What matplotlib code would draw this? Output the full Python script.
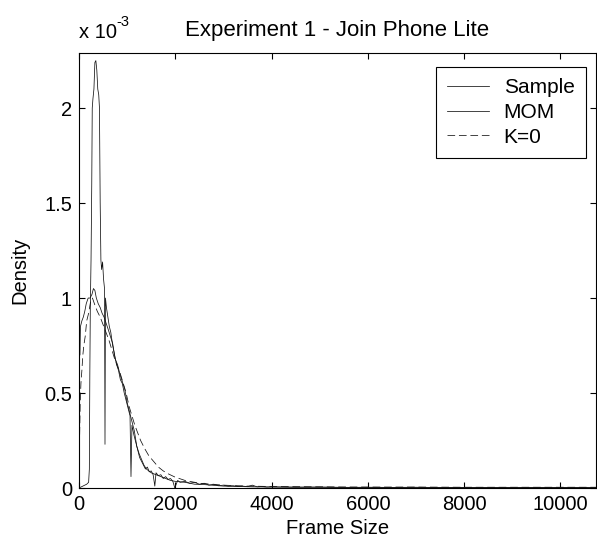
import matplotlib
matplotlib.use("Agg")
import matplotlib.pyplot as plt
from matplotlib.ticker import FixedLocator, FuncFormatter

plt.rcParams['font.family'] = ['Liberation Sans', 'DejaVu Sans']

# Data: (frame size in bytes, density in units of 1e-3)
sample_pts = [(0, 0.0), (80, 0.01), (160, 0.02), (200, 0.03), (215, 0.1), (225, 0.6), (235, 0.95),
              (250, 1.2), (265, 1.6), (275, 2.0), (290, 2.05), (310, 2.1), (330, 2.24), (350, 2.25),
              (370, 2.2), (390, 2.1), (410, 2.07), (425, 2.0), (440, 1.5), (455, 1.2), (470, 1.15),
              (490, 1.19), (510, 1.1), (530, 1.05), (540, 0.23), (550, 1.0), (570, 0.95), (600, 0.9),
              (630, 0.85), (660, 0.82), (700, 0.75), (740, 0.7), (780, 0.65), (820, 0.62), (860, 0.57),
              (900, 0.55), (940, 0.5), (980, 0.46), (1020, 0.42), (1060, 0.38), (1080, 0.06), (1100, 0.33),
              (1140, 0.28), (1180, 0.24), (1220, 0.2), (1260, 0.16), (1300, 0.14), (1340, 0.12), (1380, 0.1),
              (1420, 0.11), (1460, 0.085), (1500, 0.09), (1540, 0.07), (1575, 0.01), (1600, 0.08),
              (1650, 0.065), (1700, 0.07), (1750, 0.05), (1800, 0.06), (1850, 0.045), (1900, 0.05),
              (1950, 0.035), (1990, 0.0), (2050, 0.04), (2100, 0.03), (2200, 0.035), (2300, 0.025),
              (2400, 0.03), (2500, 0.02), (2600, 0.025), (2700, 0.015), (2800, 0.02), (2900, 0.012),
              (3000, 0.015), (3100, 0.01), (3200, 0.012), (3300, 0.008), (3400, 0.01), (3500, 0.007),
              (3600, 0.015), (3700, 0.006), (3800, 0.008), (3900, 0.005), (4000, 0.006), (4500, 0.004),
              (5000, 0.005), (5500, 0.003), (6000, 0.004), (6500, 0.003), (7000, 0.004), (7500, 0.002),
              (8000, 0.003), (8500, 0.002), (9000, 0.003), (9500, 0.002), (10000, 0.002), (10500, 0.002),
              (10740, 0.001)]

mom_pts = [(0, 0.7), (20, 0.7), (30, 0.85), (60, 0.88), (90, 0.9), (120, 0.93), (150, 0.97), (190, 1.0),
           (230, 1.0), (270, 1.02), (300, 1.05), (330, 1.04), (360, 1.0), (400, 0.97), (440, 0.95),
           (480, 0.92), (520, 0.9), (560, 0.87), (600, 0.84), (650, 0.8), (700, 0.76), (750, 0.68),
           (800, 0.65), (850, 0.6), (900, 0.56), (950, 0.52), (1000, 0.45), (1050, 0.4), (1100, 0.35),
           (1150, 0.3), (1200, 0.22), (1250, 0.18), (1300, 0.15), (1350, 0.12), (1400, 0.1), (1450, 0.09),
           (1500, 0.08), (1600, 0.07), (1700, 0.06), (1800, 0.05), (1900, 0.04), (2000, 0.035),
           (2200, 0.03), (2400, 0.02), (2600, 0.018), (2800, 0.014), (3000, 0.01), (3300, 0.008),
           (3600, 0.006), (4000, 0.005), (5000, 0.004), (6000, 0.003), (7000, 0.003), (8000, 0.002),
           (9000, 0.002), (10000, 0.002), (10740, 0.002)]

k0_pts = [(0, 0.1), (15, 0.3), (25, 0.45), (40, 0.55), (60, 0.62), (80, 0.7), (100, 0.75), (130, 0.8),
          (160, 0.88), (200, 0.92), (240, 0.98), (280, 1.0), (320, 0.97), (380, 0.93), (440, 0.9),
          (500, 0.86), (560, 0.82), (620, 0.78), (680, 0.73), (740, 0.68), (800, 0.64), (860, 0.6),
          (920, 0.55), (980, 0.5), (1040, 0.43), (1100, 0.38), (1160, 0.33), (1220, 0.29), (1280, 0.25),
          (1370, 0.205), (1450, 0.17), (1550, 0.14), (1650, 0.11), (1750, 0.09), (1850, 0.075),
          (1990, 0.058), (2200, 0.04), (2500, 0.025), (3000, 0.015), (3500, 0.01), (4000, 0.008),
          (5000, 0.006), (6000, 0.005), (7000, 0.005), (8000, 0.004), (9000, 0.004), (10000, 0.004),
          (10740, 0.004)]

series_labels = ["Sample", "MOM", "K=0"]
x_ticks = [0, 2000, 4000, 6000, 8000, 10000]
y_ticks = [0, 0.5, 1, 1.5, 2]

W, H = 597, 545
fig = plt.figure(figsize=(W / 100, H / 100), dpi=100)
ax = fig.add_axes([79 / W, 1 - 488 / H, (596 - 79) / W, (488 - 53) / H])

FS = 14.5

def split(pts):
    return [p[0] for p in pts], [p[1] for p in pts]

xs, ys = split(sample_pts)
ax.plot(xs, ys, color='#111111', lw=0.55, label=series_labels[0])
xm, ym = split(mom_pts)
ax.plot(xm, ym, color='#111111', lw=0.55, label=series_labels[1])
xk, yk = split(k0_pts)
ax.plot(xk, yk, color='#111111', lw=0.55, linestyle=(0, (10, 5)), label=series_labels[2])

ax.set_xlim(0, 10740)
ax.set_ylim(0, 2.29)
ax.xaxis.set_major_locator(FixedLocator(x_ticks))
ax.yaxis.set_major_locator(FixedLocator(y_ticks))
ax.yaxis.set_major_formatter(FuncFormatter(lambda v, p: '%g' % v))
ax.tick_params(direction='in', length=4, width=0.8, top=True, right=True,
               labelsize=FS, pad=5, colors='black')
for s in ax.spines.values():
    s.set_linewidth(0.8)

ax.set_xlabel("Frame Size", fontsize=FS, labelpad=4)
ax.set_ylabel("Density", fontsize=FS, labelpad=11)
ax.set_title("Experiment 1 - Join Phone Lite", fontsize=16, pad=12)
fig.text(79 / W, 1 - 38 / H, "x 10", fontsize=FS, ha='left', va='baseline')
fig.text(116 / W, 1 - 26 / H, "-3", fontsize=10.5, ha='left', va='baseline')

leg = ax.legend(loc='upper right', bbox_to_anchor=((586 - 79) / (596 - 79), (488 - 67) / (488 - 53)),
                borderaxespad=0, fontsize=15, frameon=True, fancybox=False, framealpha=1,
                edgecolor='black', handlelength=2.0, handletextpad=0.7, labelspacing=0.27,
                borderpad=0.55)
leg.get_frame().set_linewidth(0.8)

fig.savefig("out.png", dpi=100)
